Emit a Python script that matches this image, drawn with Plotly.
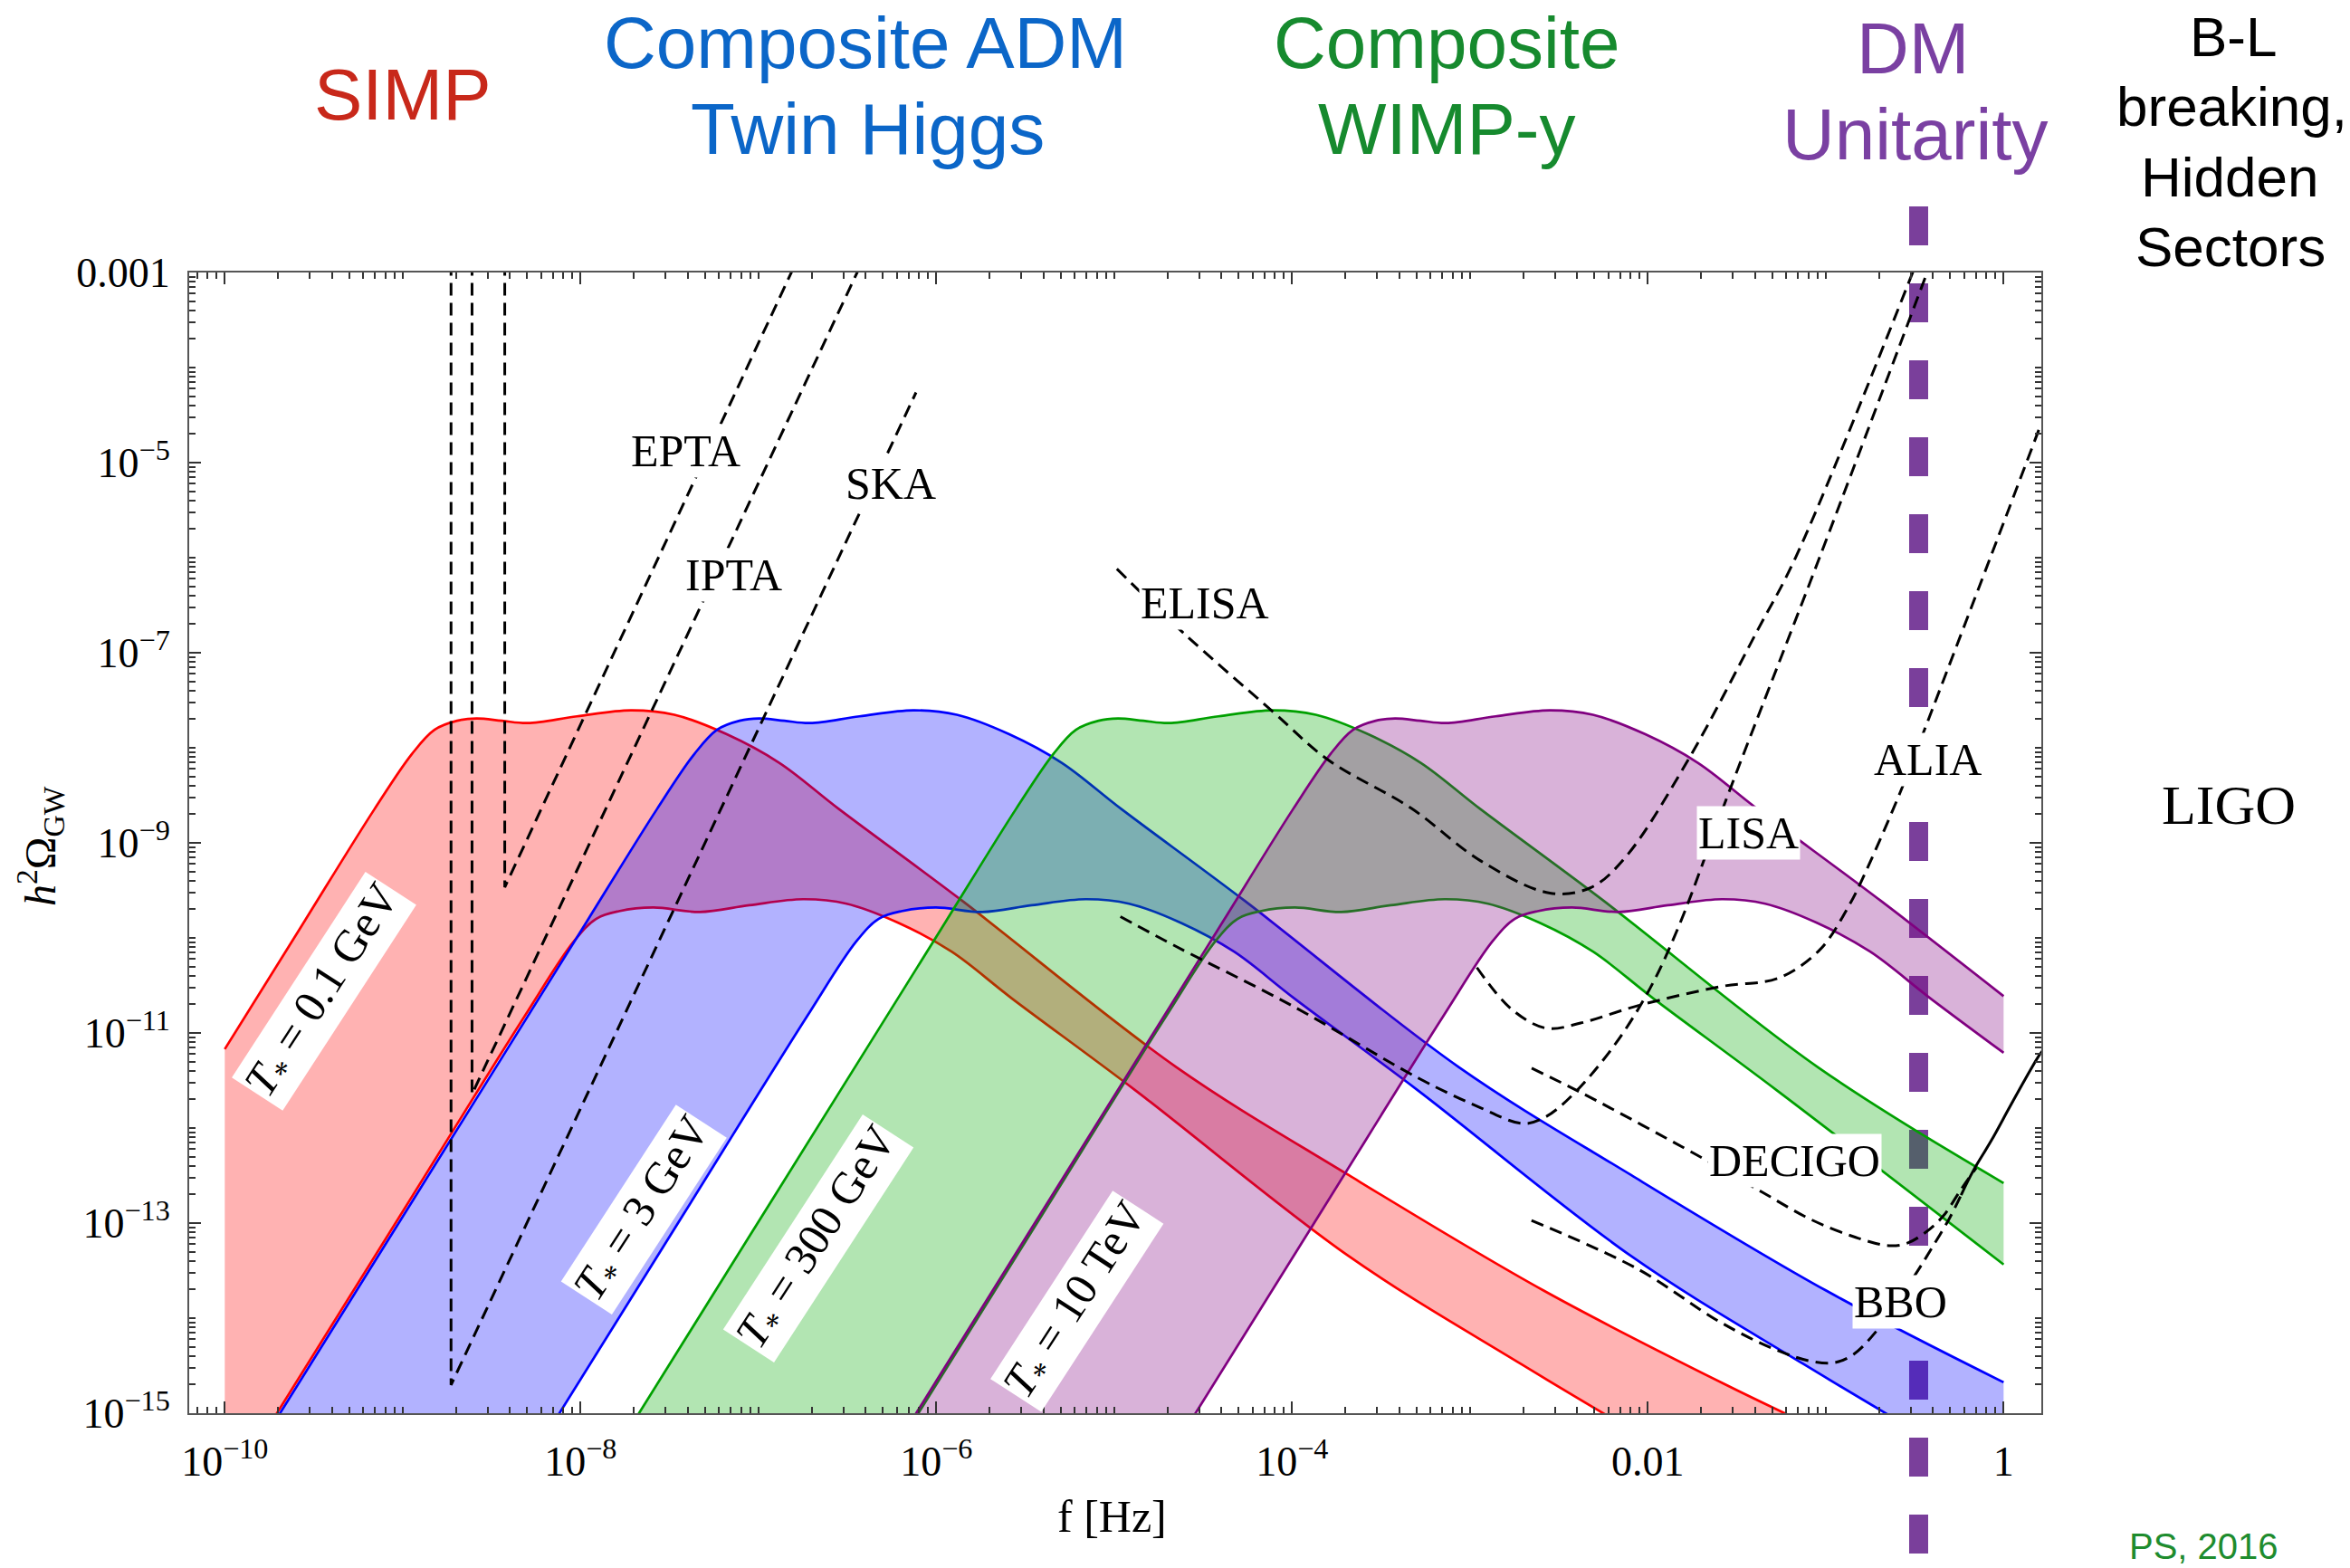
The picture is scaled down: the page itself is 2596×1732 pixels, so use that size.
import math
import plotly.graph_objects as go

# ---------------- canvas / frame (pixels) ----------------
W, H = 2596, 1732
L, R, T, B = 209, 2255, 301, 1561
X_RANGE = [-10.2, 0.212]      # log10 f
Y_RANGE = [-15.0, -3.0]       # log10 h^2 Omega

# ---------------- data: log10 values ----------------
# T* = 0.1 GeV band
RED_UP_LOGF = [-10.000, -9.579, -9.158, -8.947, -8.821, -8.694, -8.585, -8.442, -8.298, -8.020, -7.717,
               -7.473, -7.178, -6.883, -6.546, -5.855, -4.650, -3.682, -2.586, -1.575, -0.977]
RED_UP_LOGOM = [-11.170, -9.907, -8.644, -8.063, -7.811, -7.716, -7.692, -7.716, -7.740, -7.669, -7.606,
                -7.653, -7.858, -8.158, -8.647, -9.609, -11.360, -12.495, -13.710, -14.688, -15.224]
RED_LO_LOGF = [-10.000, -8.998, -8.315, -8.037, -7.911, -7.784, -7.591, -7.329, -7.051, -6.748, -6.504,
               -6.209, -5.914, -5.577, -4.886, -3.682, -2.713, -1.618]
RED_LO_LOGOM = [-15.880, -12.874, -10.826, -10.035, -9.798, -9.719, -9.680, -9.727, -9.656, -9.593, -9.640,
                -9.845, -10.145, -10.634, -11.596, -13.347, -14.483, -15.697]

# T* = 3 GeV band
BLUE_UP_LOGF = [-9.836, -9.078, -8.412, -7.991, -7.570, -7.359, -7.233, -7.106, -6.997, -6.854, -6.710,
                -6.432, -6.129, -5.885, -5.590, -5.295, -4.958, -4.267, -3.062, -2.094, -0.998, 0.0]
BLUE_UP_LOGOM = [-15.44, -13.167, -11.170, -9.907, -8.644, -8.063, -7.811, -7.716, -7.692, -7.716, -7.740,
                 -7.669, -7.606, -7.653, -7.858, -8.158, -8.647, -9.609, -11.360, -12.495, -13.710, -14.675]
BLUE_LO_LOGF = [-8.412, -7.410, -6.727, -6.449, -6.323, -6.196, -6.003, -5.741, -5.463, -5.160, -4.916,
                -4.621, -4.326, -3.989, -3.298, -2.094, -1.125, 0.0]
BLUE_LO_LOGOM = [-15.880, -12.874, -10.826, -10.035, -9.798, -9.719, -9.680, -9.727, -9.656, -9.593, -9.640,
                 -9.845, -10.145, -10.634, -11.596, -13.347, -14.483, -15.73]

# T* = 300 GeV band
GREEN_UP_LOGF = [-7.818, -7.060, -6.394, -5.973, -5.552, -5.341, -5.215, -5.088, -4.979, -4.836, -4.692,
                 -4.414, -4.111, -3.867, -3.572, -3.277, -2.940, -2.249, -1.044, 0.0]
GREEN_UP_LOGOM = [-15.44, -13.167, -11.170, -9.907, -8.644, -8.063, -7.811, -7.716, -7.692, -7.716, -7.740,
                  -7.669, -7.606, -7.653, -7.858, -8.158, -8.647, -9.609, -11.360, -12.579]
GREEN_LO_LOGF = [-6.394, -5.392, -4.709, -4.431, -4.305, -4.178, -3.985, -3.723, -3.445, -3.142, -2.898,
                 -2.603, -2.308, -1.971, -1.280, 0.0]
GREEN_LO_LOGOM = [-15.880, -12.874, -10.826, -10.035, -9.798, -9.719, -9.680, -9.727, -9.656, -9.593, -9.640,
                  -9.845, -10.145, -10.634, -11.596, -13.436]

# T* = 10 TeV band
PURPLE_UP_LOGF = [-6.260, -5.502, -4.836, -4.415, -3.994, -3.783, -3.657, -3.530, -3.421, -3.278, -3.134,
                  -2.856, -2.553, -2.309, -2.014, -1.719, -1.382, -0.691, 0.0]
PURPLE_UP_LOGOM = [-15.44, -13.167, -11.170, -9.907, -8.644, -8.063, -7.811, -7.716, -7.692, -7.716, -7.740,
                   -7.669, -7.606, -7.653, -7.858, -8.158, -8.647, -9.609, -10.613]
PURPLE_LO_LOGF = [-4.836, -3.834, -3.151, -2.873, -2.747, -2.620, -2.427, -2.165, -1.887, -1.584, -1.340,
                  -1.045, -0.750, -0.413, 0.0]
PURPLE_LO_LOGOM = [-15.880, -12.874, -10.826, -10.035, -9.798, -9.719, -9.680, -9.727, -9.656, -9.593, -9.640,
                   -9.845, -10.145, -10.634, -11.209]

# detector sensitivity curves
EPTA_LOGF = [-8.426, -8.426, -6.79]
EPTA_LOGOM = [-2.9, -9.467, -2.9]
IPTA_LOGF = [-8.610, -8.610, -6.42]
IPTA_LOGOM = [-2.9, -11.644, -2.9]
SKA_LOGF = [-8.728, -8.728, -6.114]
SKA_LOGOM = [-2.9, -14.703, -4.262]

ELISA_LOGF = [-4.985, -4.615, -4.111, -3.798, -3.330, -2.940, -2.551, -2.317, -2.123, -1.773, -1.383, -1.171, -0.49]
ELISA_LOGOM = [-6.118, -6.785, -7.615, -8.126, -8.636, -9.189, -9.528, -9.467, -9.145, -8.126, -6.763, -6.005, -2.9]
LISA_LOGF = [-4.965, -4.649, -4.000, -3.286, -2.961, -2.701, -2.572, -2.409, -2.182, -1.988, -1.826, -1.542, -1.036, -0.41]
LISA_LOGOM = [-9.776, -10.093, -10.713, -11.479, -11.770, -11.953, -11.880, -11.625, -11.114, -10.532, -9.877,
              -8.457, -6.005, -2.9]
ALIA_LOGF = [-2.961, -2.767, -2.572, -2.378, -2.056, -1.578, -1.266, -1.032, -0.868, -0.799, -0.585, -0.448, -0.069, 0.211]
ALIA_LOGOM = [-10.312, -10.749, -10.950, -10.896, -10.713, -10.508, -10.423, -10.123, -9.656, -9.401, -8.486,
              -7.826, -5.972, -4.591]
DECIGO_LOGF = [-2.653, -2.377, -1.727, -1.358, -1.087, -0.832, -0.645, -0.544, -0.442, -0.340, -0.238, -0.154]
DECIGO_LOGOM = [-11.371, -11.626, -12.281, -12.674, -12.959, -13.150, -13.238, -13.213, -13.102, -12.927, -12.642, -12.420]
BBO_LOGF = [-2.654, -2.056, -1.596, -1.291, -1.087, -0.950, -0.849, -0.714, -0.493, -0.408, -0.307, -0.239]
BBO_LOGOM = [-12.972, -13.484, -14.039, -14.325, -14.451, -14.467, -14.388, -14.134, -13.532, -13.276, -12.959, -12.705]
LIGO_LOGF = [-0.239, -0.171, -0.069, 0.033, 0.118, 0.202, 0.24]
LIGO_LOGOM = [-12.705, -12.451, -12.132, -11.784, -11.498, -11.229, -11.14]

DM_UNITARITY_F = 0.333   # Hz

# ticks
X_TICKVALS = [1e-10, 1e-8, 1e-6, 1e-4, 1e-2, 1]
X_TICKTEXT = ['10<sup>\u221210</sup>', '10<sup>\u22128</sup>', '10<sup>\u22126</sup>',
              '10<sup>\u22124</sup>', '0.01', '1']
Y_TICKVALS = [1e-15, 1e-13, 1e-11, 1e-9, 1e-7, 1e-5, 1e-3]
Y_TICKTEXT = ['10<sup>\u221215</sup>', '10<sup>\u221213</sup>', '10<sup>\u221211</sup>', '10<sup>\u22129</sup>',
              '10<sup>\u22127</sup>', '10<sup>\u22125</sup>', '0.001']

# ---------------- helpers ----------------
def pw(v):
    return [10 ** t for t in v]

def px_x(x):
    return (x - L) / (R - L)

def px_y(y):
    return (B - y) / (B - T)

fig = go.Figure()

bands = [
    (RED_LO_LOGF, RED_LO_LOGOM, RED_UP_LOGF, RED_UP_LOGOM, 'rgb(255,0,0)', 'rgba(255,0,0,0.3)'),
    (BLUE_LO_LOGF, BLUE_LO_LOGOM, BLUE_UP_LOGF, BLUE_UP_LOGOM, 'rgb(0,0,255)', 'rgba(0,0,255,0.3)'),
    (GREEN_LO_LOGF, GREEN_LO_LOGOM, GREEN_UP_LOGF, GREEN_UP_LOGOM, 'rgb(0,160,0)', 'rgba(0,170,0,0.3)'),
    (PURPLE_LO_LOGF, PURPLE_LO_LOGOM, PURPLE_UP_LOGF, PURPLE_UP_LOGOM, 'rgb(128,0,128)', 'rgba(128,0,128,0.3)'),
]
for lo_f, lo_o, up_f, up_o, lc, fc in bands:
    fig.add_trace(go.Scatter(x=pw(lo_f), y=pw(lo_o), mode='lines',
                             line=dict(color=lc, width=2.7, shape='spline', smoothing=1),
                             hoverinfo='skip', showlegend=False))
    fig.add_trace(go.Scatter(x=pw(up_f), y=pw(up_o), mode='lines', fill='tonexty', fillcolor=fc,
                             line=dict(color=lc, width=2.7, shape='spline', smoothing=1),
                             hoverinfo='skip', showlegend=False))

DASH = '14px,8px'
for f, o, shp in [(EPTA_LOGF, EPTA_LOGOM, 'linear'), (IPTA_LOGF, IPTA_LOGOM, 'linear'),
                  (SKA_LOGF, SKA_LOGOM, 'linear'), (ELISA_LOGF, ELISA_LOGOM, 'spline'),
                  (LISA_LOGF, LISA_LOGOM, 'spline'), (ALIA_LOGF, ALIA_LOGOM, 'spline'),
                  (DECIGO_LOGF, DECIGO_LOGOM, 'spline'), (BBO_LOGF, BBO_LOGOM, 'spline')]:
    fig.add_trace(go.Scatter(x=pw(f), y=pw(o), mode='lines',
                             line=dict(color='black', width=3, dash=DASH, shape=shp),
                             hoverinfo='skip', showlegend=False))
fig.add_trace(go.Scatter(x=pw(LIGO_LOGF), y=pw(LIGO_LOGOM), mode='lines',
                         line=dict(color='black', width=3, shape='spline'),
                         hoverinfo='skip', showlegend=False))

# DM unitarity thick dashed line, drawn underneath the semi-transparent bands
xdm_paper = (math.log10(DM_UNITARITY_F) - X_RANGE[0]) / (X_RANGE[1] - X_RANGE[0])
fig.add_shape(type='line', xref='paper', yref='paper', x0=xdm_paper, x1=xdm_paper,
              y0=px_y(228), y1=px_y(1722), layer='below',
              line=dict(color='#7A3F9B', width=21, dash='43px,42px'))

SERIF = 'Liberation Serif'
SANS = 'Liberation Sans'
ann = []

def data_label(text, xl, yl, size=50, angle=0):
    ann.append(dict(x=xl, y=yl, xref='x', yref='y', text=text, showarrow=False,
                    font=dict(family=SERIF, size=size, color='black'), bgcolor='white',
                    borderpad=1, textangle=angle, xanchor='center', yanchor='middle'))

data_label('EPTA', -7.411, -4.876)
data_label('IPTA', -7.137, -6.185)
data_label('SKA', -6.256, -5.219)
data_label('ELISA', -4.491, -6.479)
data_label('LISA', -1.434, -8.891)
data_label('ALIA', -0.429, -8.124)
data_label('DECIGO', -1.177, -12.343)
data_label('BBO', -0.577, -13.829)

TLAB = '<i>T</i><sub>*</sub> = '
data_label(TLAB + '0.1 GeV', -9.442, -10.562, 50, -57)
data_label(TLAB + '3 GeV', -7.644, -12.855, 50, -57)
data_label(TLAB + '300 GeV', -6.663, -13.162, 50, -57)
data_label(TLAB + '10 TeV', -5.208, -13.819, 50, -57)

def page_text(text, x, y, size, color, family=SANS, angle=0):
    ann.append(dict(x=px_x(x), y=px_y(y), xref='paper', yref='paper', text=text, showarrow=False,
                    font=dict(family=family, size=size, color=color), textangle=angle,
                    xanchor='center', yanchor='middle'))

RED_T, BLUE_T, GREEN_T, PURP_T = '#C8281A', '#0B66C8', '#168A2E', '#7A40A2'
page_text('SIMP', 445, 104.7, 80, RED_T)
page_text('Composite ADM', 956, 47.7, 80, BLUE_T)
page_text('Twin Higgs', 958, 142.7, 80, BLUE_T)
page_text('Composite', 1598, 47.7, 80, GREEN_T)
page_text('WIMP-y', 1598, 142.7, 80, GREEN_T)
page_text('DM', 2113, 53.4, 80, PURP_T)
page_text('Unitarity', 2115, 148.4, 80, PURP_T)
page_text('B-L', 2467, 40, 62, 'black')
page_text('breaking,', 2465, 117, 62, 'black')
page_text('Hidden', 2463, 195, 62, 'black')
page_text('Sectors', 2464, 272, 62, 'black')
page_text('LIGO', 2462, 889, 62, 'black', SERIF)
page_text('PS, 2016', 2434, 1708, 40, '#1E8C2E')
page_text('f [Hz]', 1228.5, 1675, 50, 'black', SERIF)
page_text('<i>h</i><sup>2</sup>\u03a9<sub>GW</sub>', 44, 935, 48, 'black', SERIF, -90)

X_MINOR = [k * 10.0 ** n for n in range(-11, 1) for k in range(1, 10)
           if not (k == 1 and n in (-10, -8, -6, -4, -2, 0))]
Y_MINOR = [k * 10.0 ** n for n in range(-16, -2) for k in range(1, 10)
           if not (k == 1 and n in (-15, -13, -11, -9, -7, -5, -3))]

axis_common = dict(type='log', showgrid=False, zeroline=False, showline=True, linecolor='#555555',
                   linewidth=2, mirror='ticks', ticks='inside', ticklen=13, tickwidth=2, tickcolor='#333333',
                   tickmode='array', tickfont=dict(family=SERIF, size=46, color='black'))

fig.update_layout(
    width=W, height=H,
    margin=dict(l=L, r=W - R, t=T, b=H - B, pad=0),
    paper_bgcolor='white', plot_bgcolor='rgba(0,0,0,0)',
    showlegend=False,
    xaxis=dict(axis_common, range=X_RANGE, tickvals=X_TICKVALS, ticktext=X_TICKTEXT,
               ticklabelstandoff=12,
               minor=dict(tickmode='array', tickvals=X_MINOR, ticks='inside', ticklen=7,
                          tickwidth=1.5, tickcolor='#333333')),
    yaxis=dict(axis_common, range=Y_RANGE, tickvals=Y_TICKVALS, ticktext=Y_TICKTEXT,
               ticklabelstandoff=10,
               minor=dict(tickmode='array', tickvals=Y_MINOR, ticks='inside', ticklen=7,
                          tickwidth=1.5, tickcolor='#333333')),
    annotations=ann,
)

fig.write_html("out.html", config={'displayModeBar': False},
               post_script="document.body.style.margin='0';document.body.style.overflow='hidden';")
